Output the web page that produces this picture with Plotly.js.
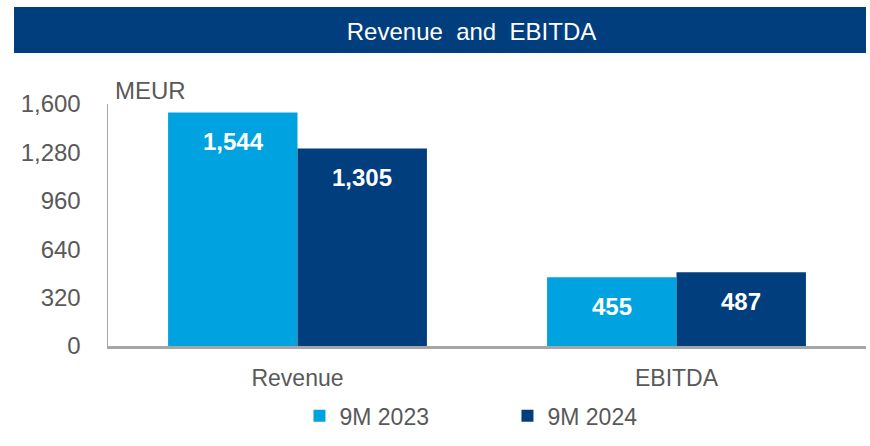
<!DOCTYPE html>
<html><head><meta charset="utf-8">
<script src="https://cdn.plot.ly/plotly-3.0.1.min.js"></script>
<style>html,body{margin:0;padding:0;background:#fff}#chart{width:870px;height:446px}</style>
</head><body><div id="chart"></div>
<script>
const categories = ["Revenue", "EBITDA"];
const seriesNames = ["9M 2023", "9M 2024"];
const values2023 = [1544, 455];
const values2024 = [1305, 487];
const tickVals = [0, 320, 640, 960, 1280, 1600];
const tickText = ["0", "320", "640", "960", "1,280", "1,600"];

const colors = ["#00A3E0", "#003E7E"];
const FONT = "Liberation Sans, Arial, sans-serif";
const fmt = v => v.toLocaleString("en-US");

const series = [values2023, values2024];
const traces = series.map((vals, i) => ({
  type: "bar", name: seriesNames[i], x: categories, y: vals,
  marker: {color: colors[i]}, hoverinfo: "skip", offsetgroup: String(i)
}));

const annotations = [];
series.forEach((vals, i) => {
  vals.forEach((v, j) => {
    annotations.push({
      x: categories[j], y: v, xref: "x", yref: "y",
      xshift: (i === 0 ? -1 : 1) * 64.5,
      yshift: -29, yanchor: "middle", showarrow: false,
      text: "<b>" + fmt(v) + "</b>",
      font: {family: FONT, size: 24, color: "#ffffff"}
    });
  });
});
annotations.push({
  xref: "paper", yref: "paper", x: 0.006, y: 1.0, xanchor: "left", yanchor: "bottom",
  yshift: -2, showarrow: false, text: "MEUR",
  font: {family: FONT, size: 24, color: "#595959"}
});

const layout = {
  width: 870, height: 446,
  margin: {l: 108, r: 4, t: 104, b: 100},
  paper_bgcolor: "#fff", plot_bgcolor: "#fff",
  font: {family: FONT, color: "#595959"},
  title: {text: "Revenue&nbsp; and&nbsp; EBITDA", font: {family: FONT, size: 24, color: "#ffffff"},
          x: 471.5/870, xanchor: "center", y: 1 - 31.5/446, yanchor: "middle", xref: "container", yref: "container"},
  shapes: [{type: "rect", xref: "paper", yref: "paper", x0: -0.124, x1: 1.0,
            y0: (346-53)/242, y1: (346-7)/242, fillcolor: "#003E7E", line: {width: 0}, layer: "below"}],
  barmode: "group", bargap: 0.317, bargroupgap: 0,
  xaxis: {type: "category", showgrid: false, showline: true, linecolor: "#A6A6A6", linewidth: 3,
          ticks: "", tickfont: {family: FONT, size: 23, color: "#595959"}, ticklabelstandoff: 9,
          fixedrange: true},
  yaxis: {range: [0, 1600], tickvals: tickVals, ticktext: tickText, showgrid: false, zeroline: false,
          showline: true, linecolor: "#A6A6A6", linewidth: 1.5, ticks: "",
          tickfont: {family: FONT, size: 24, color: "#595959"}, ticklabelstandoff: 21, fixedrange: true},
  showlegend: true,
  legend: {orientation: "h", x: 0.527, xanchor: "center", y: -0.2, yanchor: "top",
           font: {family: FONT, size: 23, color: "#595959"}, entrywidth: 163, itemwidth: 30,
           traceorder: "normal"},
  annotations: annotations
};
Plotly.newPlot("chart", traces, layout, {displayModeBar: false, staticPlot: true});
</script></body></html>
